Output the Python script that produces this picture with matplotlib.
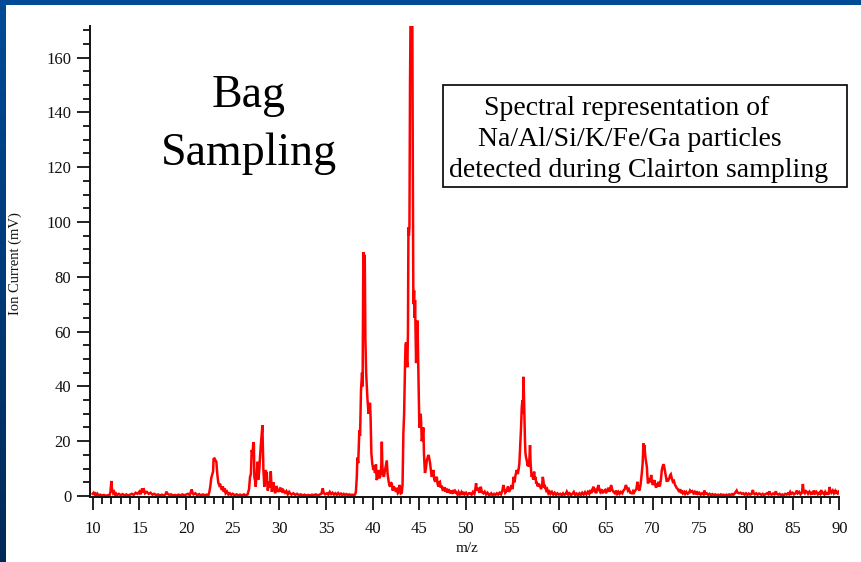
import numpy as np
import matplotlib
matplotlib.use("Agg")
import matplotlib.pyplot as plt
from matplotlib.patches import Rectangle
from matplotlib.ticker import MultipleLocator
from matplotlib.colors import LinearSegmentedColormap

# ---------------- data ----------------
mz_a = [10.0, 10.1, 10.2, 10.3, 10.4, 10.5, 10.6, 10.8, 11.0, 11.2, 11.4, 11.6, 11.8, 11.9, 12.0, 12.05, 12.1, 12.2,
        12.3, 12.4, 12.5, 12.6, 12.8, 13.0, 13.2, 13.4, 13.6, 13.8, 14.0, 14.2, 14.4, 14.6, 14.8, 15.0, 15.1, 15.2,
        15.3, 15.4, 15.5, 15.6, 15.8, 16.0, 16.2, 16.4, 16.6, 16.8, 17.0, 17.2, 17.4, 17.6, 17.8, 17.9, 18.0, 18.2,
        18.4, 18.6, 18.8, 19.0, 19.2, 19.4, 19.6, 19.8, 20.0, 20.2, 20.4, 20.6, 20.7, 20.8, 21.0, 21.2, 21.4, 21.6,
        21.8, 22.0, 22.2, 22.4, 22.5, 22.6, 22.7, 22.8, 22.9, 22.95, 23.05, 23.15, 23.25, 23.35, 23.45, 23.55, 23.65,
        23.75, 23.85, 23.95, 24.05, 24.15, 24.25, 24.4, 24.55, 24.7, 24.85, 25.0, 25.2, 25.4, 25.6, 25.8, 26.0, 26.2,
        26.4, 26.6]
ion_a = [0.8, 1.2, 0.6, 0.9, 0.3, 0.8, 0.2, 0.5, 0.2, 0.4, 0.1, 0.3, 0.2, 1.5, 5.5, 3.0, 2.2, 1.0,
         1.5, 0.5, 0.9, 0.3, 0.8, 0.3, 0.7, 0.2, 0.6, 0.2, 0.5, 0.8, 0.4, 1.2, 0.8, 1.6, 0.6, 1.5,
         2.8, 1.8, 2.2, 1.0, 1.5, 0.8, 1.2, 0.5, 0.8, 0.3, 0.6, 0.2, 0.5, 0.2, 0.6, 1.6, 0.9, 0.4,
         0.6, 0.2, 0.4, 0.2, 0.5, 0.2, 0.6, 0.3, 0.5, 0.8, 0.3, 2.4, 1.2, 0.6, 1.0, 0.3, 0.7, 0.2,
         0.6, 0.3, 0.5, 0.3, 1.5, 3.5, 6.5, 7.7, 9.0, 13.5, 13.7, 13.0, 12.5, 8.0, 5.0, 4.0, 4.5,
         3.0, 2.2, 3.5, 1.5, 2.8, 1.0, 1.6, 0.5, 1.0, 0.4, 0.8, 0.3, 0.6, 0.3, 0.5, 0.2, 0.6,
         0.2, 0.6]

mz_b = [26.75, 26.86, 26.95, 27.04, 27.12, 27.21, 27.27, 27.32, 27.4, 27.47, 27.52, 27.58, 27.66, 27.75, 27.85,
        27.93, 28.04, 28.12, 28.18, 28.22, 28.29, 28.34, 28.39, 28.46, 28.54, 28.6, 28.65, 28.7, 28.76, 28.85,
        28.93, 29.0, 29.08, 29.13, 29.19, 29.28, 29.36, 29.45, 29.54, 29.63, 29.72, 29.8, 29.9, 30.0, 30.1, 30.25,
        30.35, 30.45, 30.6, 30.75, 30.9, 31.05, 31.15, 31.3, 31.5, 31.7, 31.9, 32.1, 32.3, 32.5, 32.7, 32.9, 33.1,
        33.3, 33.5, 33.7, 33.9, 34.1, 34.3, 34.5, 34.65, 34.75, 34.9, 35.1, 35.25, 35.4, 35.55, 35.7, 35.85, 36.0,
        36.15, 36.3, 36.45, 36.6, 36.75, 36.9, 37.05, 37.2, 37.35, 37.5, 37.65, 37.8, 37.95, 38.1]
ion_b = [2.5, 7.0, 8.0, 16.8, 15.0, 19.6, 19.0, 7.0, 5.5, 3.4, 6.0, 8.0, 12.5, 6.0, 9.5,
         14.3, 19.8, 23.0, 25.9, 20.0, 9.5, 6.5, 3.4, 6.0, 9.5, 7.5, 8.8, 5.0, 2.0, 4.0,
         5.2, 3.0, 9.0, 5.5, 1.5, 3.0, 5.0, 2.5, 1.0, 2.0, 3.7, 1.5, 2.5, 1.5, 2.8, 2.6,
         1.2, 2.0, 1.2, 1.8, 0.6, 1.5, 1.0, 0.5, 1.0, 0.4, 0.8, 0.3, 0.6, 0.2, 0.5, 0.2, 0.4,
         0.2, 0.5, 0.3, 0.6, 0.3, 0.5, 0.8, 2.8, 1.2, 0.6, 1.0, 0.5, 1.5, 0.7, 1.2, 0.5, 1.0,
         0.4, 1.1, 0.5, 0.9, 0.3, 0.8, 0.4, 0.7, 0.3, 0.6, 0.3, 0.5, 0.3, 0.5]

mz_c = [38.2, 38.3, 38.36, 38.45, 38.57, 38.65, 38.75, 38.86, 38.92, 39.0, 39.05, 39.1, 39.15, 39.22, 39.3, 39.36,
        39.43, 39.5, 39.57, 39.63, 39.72, 39.78, 39.86, 39.95, 40.07, 40.15, 40.25, 40.35, 40.43, 40.52, 40.61,
        40.7, 40.8, 40.87, 40.93, 40.98, 41.03, 41.08, 41.2, 41.33, 41.42, 41.51, 41.6, 41.69, 41.78, 41.87, 41.95,
        42.05, 42.15, 42.25, 42.4, 42.5, 42.6, 42.7, 42.76, 42.85, 42.94, 43.03, 43.12, 43.2, 43.29, 43.37, 43.47,
        43.52, 43.58, 43.64, 43.72, 43.78, 43.83, 43.88, 43.94, 44.0, 44.05, 44.15, 44.25, 44.3, 44.36, 44.44,
        44.5, 44.54, 44.6, 44.65, 44.72, 44.8, 44.85, 44.9, 44.95, 45.0, 45.08, 45.15, 45.2, 45.26, 45.35, 45.43,
        45.5, 45.6, 45.7, 45.8, 45.88, 45.97, 46.05, 46.15, 46.25, 46.33, 46.42, 46.5, 46.6, 46.7, 46.78, 46.87,
        46.95, 47.04, 47.12, 47.2, 47.3, 47.4, 47.5, 47.58, 47.7, 47.8, 47.94, 48.05, 48.15, 48.3, 48.4, 48.5,
        48.65, 48.75, 48.85, 49.0, 49.1, 49.2, 49.35, 49.5, 49.6, 49.72, 49.85, 50.0, 50.15, 50.3, 50.44, 50.6,
        50.75, 50.9, 51.0, 51.08, 51.15, 51.25, 51.33, 51.45, 51.58, 51.7, 51.86, 52.0, 52.15, 52.3, 52.45, 52.58,
        52.7, 52.85, 53.0, 53.15, 53.3, 53.45, 53.6, 53.75, 53.9]
ion_c = [1.5, 7.0, 14.0, 12.0, 24.0, 22.0, 38.7, 45.0, 40.0, 89.0, 85.0, 70.0, 88.0, 57.0, 45.0, 41.0,
         36.0, 32.6, 30.0, 33.0, 34.0, 28.0, 15.6, 12.0, 9.5, 11.0, 8.4, 11.5, 5.8, 7.0, 9.5,
         6.5, 7.0, 8.4, 12.0, 19.8, 12.0, 8.4, 7.0, 9.5, 11.0, 13.0, 8.0, 5.8, 4.0, 3.4, 5.0,
         4.5, 2.0, 3.5, 2.5, 1.5, 3.0, 1.0, 1.2, 4.0, 3.4, 1.0, 1.2, 4.0, 23.0, 30.0, 48.5,
         55.0, 56.0, 50.0, 47.0, 60.0, 98.0, 95.0, 98.0, 150.0, 172.0, 172.0, 172.0, 120.0, 70.0, 75.0,
         65.0, 71.5, 60.0, 48.5, 55.0, 64.0, 55.0, 47.0, 35.0, 25.0, 28.0, 30.0, 26.0, 20.0, 22.0, 25.0,
         15.0, 8.4, 10.0, 13.0, 14.0, 15.0, 14.0, 12.0, 9.0, 7.0, 8.0, 9.5, 6.0, 5.2, 6.5, 7.0,
         4.5, 3.4, 5.0, 5.2, 3.0, 3.8, 2.2, 2.2, 3.2, 1.5, 2.7, 1.2, 2.5, 1.0, 2.0, 0.8,
         2.2, 1.0, 1.8, 1.0, 0.5, 1.5, 0.6, 1.4, 0.4, 1.5, 0.6, 1.2, 0.4, 1.0, 1.0, 0.5,
         1.5, 0.8, 2.5, 4.7, 2.0, 3.0, 2.2, 1.2, 3.4, 1.5, 1.0, 1.6, 0.6, 1.2, 0.4, 0.5,
         1.0, 0.3, 0.8, 0.4, 1.0, 0.5, 1.2, 0.6, 2.0]

mz_d = [54.0, 54.1, 54.2, 54.37, 54.5, 54.6, 54.75, 54.9, 55.0, 55.08, 55.2, 55.3, 55.44, 55.55, 55.65, 55.72,
        55.8, 55.9, 55.97, 56.04, 56.1, 56.15, 56.2, 56.26, 56.32, 56.37, 56.44, 56.51, 56.6, 56.66, 56.73, 56.8,
        56.86, 56.92, 56.98, 57.04, 57.12, 57.2, 57.3, 57.38, 57.45, 57.52, 57.58, 57.68, 57.8, 57.94, 58.05,
        58.15, 58.23, 58.3, 58.38, 58.48, 58.6, 58.7, 58.83, 58.95, 59.05, 59.2, 59.35, 59.5, 59.65, 59.8, 59.95,
        60.1, 60.25, 60.4, 60.55, 60.7, 60.8, 60.95, 61.1, 61.25, 61.4, 61.55, 61.7, 61.85, 62.0, 62.15, 62.3,
        62.45, 62.6, 62.75, 62.9, 63.05, 63.2, 63.3, 63.42, 63.55, 63.66, 63.75, 63.84, 63.95, 64.05, 64.2, 64.3,
        64.38, 64.5, 64.6, 64.75, 64.9, 65.0, 65.12, 65.26, 65.4, 65.55, 65.65, 65.8, 65.95, 66.1, 66.2, 66.33,
        66.45, 66.6, 66.75, 66.87, 67.0, 67.13, 67.25, 67.35, 67.45, 67.6, 67.77, 67.9, 68.0, 68.13, 68.25, 68.37,
        68.45, 68.58, 68.7]
ion_d = [4.0, 2.5, 1.2, 2.0, 3.5, 1.5, 2.5, 4.0, 2.5, 7.0, 5.0, 7.5, 9.5, 8.0, 10.0, 12.0,
         18.0, 25.0, 32.0, 35.0, 30.0, 43.5, 38.0, 29.0, 20.0, 15.6, 14.0, 13.0, 11.0, 12.0, 10.7, 14.0,
         18.6, 12.0, 9.0, 7.0, 8.0, 6.0, 8.9, 6.0, 7.0, 4.5, 5.2, 3.5, 4.5, 3.4, 2.5,
         4.0, 7.0, 5.5, 3.0, 3.4, 2.0, 2.5, 1.0, 1.6, 0.8, 1.5, 0.5, 1.2, 0.4, 1.0, 0.5,
         0.8, 0.3, 1.0, 0.4, 0.8, 1.6, 0.5, 1.0, 0.3, 0.8, 1.5, 0.4, 0.9, 0.3, 1.0, 0.4,
         1.2, 0.5, 1.4, 0.6, 1.5, 0.8, 2.2, 1.0, 2.5, 3.4, 1.5, 2.0, 1.0, 2.5, 4.0, 2.0,
         1.5, 2.5, 1.0, 1.8, 2.2, 1.0, 2.0, 3.0, 1.5, 4.0, 2.5, 1.5, 1.0, 2.0, 0.8, 1.5,
         0.8, 1.5, 1.0, 2.0, 2.5, 4.0, 3.0, 2.0, 2.5, 1.2, 1.0, 1.8, 1.2, 2.0, 2.5, 5.2,
         3.0, 2.0, 4.0]

mz_e = [68.84, 68.93, 69.01, 69.08, 69.12, 69.2, 69.27, 69.38, 69.44, 69.5, 69.58, 69.66, 69.75, 69.84, 69.92,
        70.02, 70.1, 70.2, 70.28, 70.37, 70.45, 70.53, 70.62, 70.7, 70.8, 70.9, 70.98, 71.05, 71.15, 71.22, 71.33,
        71.42, 71.52, 71.6, 71.69, 71.78, 71.87, 71.95, 72.05, 72.17, 72.28, 72.4, 72.5, 72.59, 72.7, 72.84, 72.95,
        73.05, 73.13, 73.25, 73.38, 73.48, 73.6, 73.75, 73.9, 74.0, 74.1, 74.25, 74.37, 74.5, 74.6, 74.73, 74.85,
        75.0, 75.15, 75.3, 75.45, 75.55, 75.65, 75.8, 75.95, 76.1, 76.25, 76.4, 76.55, 76.7, 76.85, 77.0, 77.15,
        77.3, 77.45, 77.6, 77.75, 77.9, 78.05, 78.2, 78.35, 78.5, 78.65, 78.8, 78.9, 79.0, 79.1, 79.25, 79.4,
        79.55, 79.7, 79.85, 80.0, 80.15, 80.3, 80.45, 80.6, 80.74, 80.82, 80.95, 81.1, 81.25, 81.4, 81.5, 81.65,
        81.8, 81.95, 82.1, 82.25, 82.4, 82.5, 82.6, 82.75, 82.9, 83.05, 83.2, 83.3, 83.45, 83.6, 83.75, 83.9,
        84.05, 84.2, 84.35, 84.5, 84.62, 84.74, 84.85, 85.0, 85.15, 85.3, 85.45, 85.55, 85.7, 85.85, 86.0, 86.1,
        86.18, 86.3, 86.42, 86.53, 86.65, 86.8, 86.95, 87.1, 87.2, 87.3, 87.42, 87.55, 87.7, 87.85, 87.95, 88.06,
        88.15, 88.3, 88.4, 88.5, 88.62, 88.75, 88.85, 88.95, 89.05, 89.15, 89.3, 89.42, 89.55, 89.65, 89.74,
        89.85, 89.95]
ion_e = [8.4, 12.0, 19.2, 17.0, 18.6, 15.0, 13.0, 10.7, 7.0, 4.6, 6.5, 5.8, 5.0, 7.7, 5.5,
         4.0, 5.0, 5.8, 4.0, 3.0, 4.5, 3.5, 5.2, 3.5, 4.0, 6.5, 9.5, 10.5, 11.6, 11.0, 8.9,
         7.0, 5.2, 6.0, 5.8, 6.5, 7.5, 7.9, 6.5, 5.2, 5.5, 4.0, 3.5, 2.8, 2.5, 1.5, 2.5,
         1.0, 2.0, 1.0, 1.5, 0.8, 1.5, 0.8, 1.2, 2.0, 1.5, 1.8, 1.0, 1.5, 0.6, 1.7, 0.8,
         1.2, 0.5, 1.0, 0.6, 2.0, 0.8, 1.0, 0.4, 0.8, 0.3, 0.7, 0.3, 0.6, 0.2, 0.5, 0.2,
         0.6, 0.3, 0.5, 0.2, 0.5, 0.3, 0.6, 0.3, 0.7, 0.4, 1.0, 1.5, 2.0, 1.2, 1.0, 1.2,
         0.8, 1.0, 0.5, 1.0, 0.4, 0.9, 0.5, 0.8, 2.2, 1.0, 0.6, 1.0, 0.5, 0.9, 0.8, 0.4,
         0.8, 0.3, 0.7, 1.0, 0.6, 1.7, 0.8, 0.5, 0.9, 0.6, 1.7, 0.8, 0.5, 0.8, 0.3, 0.6,
         0.3, 0.8, 0.5, 1.0, 0.6, 1.5, 0.8, 1.2, 0.6, 1.0, 2.0, 1.0, 1.5, 0.6, 1.2, 4.4,
         1.5, 1.0, 1.8, 1.5, 0.8, 1.6, 0.8, 1.3, 0.6, 2.0, 1.0, 1.5, 0.6, 1.2, 0.8, 2.2,
         1.0, 1.2, 0.6, 1.5, 0.8, 1.0, 0.5, 3.3, 1.8, 1.2, 2.0, 1.0, 1.8, 0.8, 1.5,
         1.0, 1.6]

x_ticks = [10, 15, 20, 25, 30, 35, 40, 45, 50, 55, 60, 65, 70, 75, 80, 85, 90]
y_ticks = [0, 20, 40, 60, 80, 100, 120, 140, 160]
box_lines = ["Spectral representation of",
             "Na/Al/Si/K/Fe/Ga particles",
             "detected during Clairton sampling"]
x_label = "m/z"
y_label = "Ion Current (mV)"

mz = np.array(mz_a + mz_b + mz_c + mz_d + mz_e)
ion = np.array(ion_a + ion_b + ion_c + ion_d + ion_e)
order = np.argsort(mz, kind="stable")
mz = mz[order]
ion = ion[order]

# ---------------- figure ----------------
W, H = 862, 562
plt.rcParams['font.family'] = ['Liberation Serif', 'DejaVu Serif']
fig = plt.figure(figsize=(W / 100, H / 100), dpi=100)
fig.patch.set_facecolor('#0a4a92')

# slide background gradient
bg = fig.add_axes([0, 0, 1, 1], zorder=-10)
grad = np.linspace(0, 1, 256).reshape(-1, 1)
cmap = LinearSegmentedColormap.from_list('slide', ['#004b97', '#003a78', '#002a56'])
bg.imshow(grad, aspect='auto', cmap=cmap, extent=[0, 1, 0, 1], origin='upper')
bg.set_xlim(0, 1); bg.set_ylim(0, 1)
bg.axis('off')

def fx(px):
    return px / W

def fy(py):
    return 1 - py / H

# white panel
fig.add_artist(Rectangle((fx(6), 0), 1 - fx(6), fy(5), transform=fig.transFigure,
                         facecolor='white', edgecolor='none', zorder=-5))

left, right, top, bottom = 90, 839.3, 26, 497
ax = fig.add_axes([fx(left), fy(bottom), (right - left) / W, (bottom - top) / H])
ax.set_facecolor('none')
ax.plot(mz, ion, color='#ff0000', lw=1.8, solid_joinstyle='miter')
ax.set_xlim(9.71, 90)
ax.set_ylim(-0.36, 171.5)

for s in ['top', 'right']:
    ax.spines[s].set_visible(False)
for s in ['left', 'bottom']:
    ax.spines[s].set_linewidth(1.4)
    ax.spines[s].set_color('#111111')

ax.set_xticks(x_ticks)
ax.set_yticks(y_ticks)
ax.xaxis.set_minor_locator(MultipleLocator(1))
ax.yaxis.set_minor_locator(MultipleLocator(5))
ax.tick_params(axis='both', which='major', direction='out', length=9.5, width=1.3,
               color='#111111', labelsize=12, labelcolor='#111111')
ax.tick_params(axis='both', which='minor', direction='out', length=5, width=1.3, color='#111111')
ax.tick_params(axis='x', which='major', pad=8)
ax.tick_params(axis='y', which='major', pad=4)

fig.text(fx(15), fy(264), y_label, rotation=90, ha='center', va='center', fontsize=10.5, color='#111111')
fig.text(fx(467), fy(548), x_label, ha='center', va='center', fontsize=11, color='#111111')

# "Bag Sampling"
fig.text(fx(248.5), fy(107), "Bag", ha='center', va='baseline', fontsize=33, color='black')
fig.text(fx(248.5), fy(165), "Sampling", ha='center', va='baseline', fontsize=33, color='black')

# boxed annotation
fig.add_artist(Rectangle((fx(443), fy(187)), fx(847) - fx(443), fy(85) - fy(187),
                         transform=fig.transFigure, facecolor='white', edgecolor='black', lw=1.2))
centers = [626.5, 630, 638.5]
baselines = [115, 146, 177]
for t, cx, by in zip(box_lines, centers, baselines):
    fig.text(fx(cx), fy(by), t, ha='center', va='baseline', fontsize=20, color='black')

fig.savefig('out.png', dpi=100, facecolor=fig.get_facecolor())
